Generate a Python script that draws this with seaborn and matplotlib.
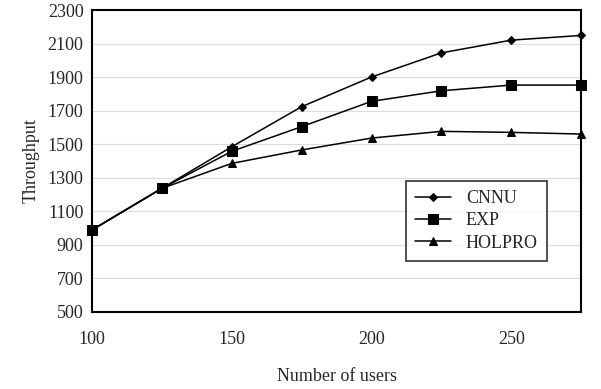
import matplotlib
matplotlib.use("Agg")
import matplotlib.pyplot as plt
import numpy as np
import pandas as pd
import seaborn as sns

users = [100, 125, 150, 175, 200, 225, 250, 275]
cnnu = [989, 1237, 1485, 1724, 1901, 2045, 2121, 2149]
exp = [989, 1237, 1458, 1605, 1756, 1819, 1853, 1853]
holpro = [989, 1237, 1386, 1466, 1537, 1577, 1571, 1561]
names = ["CNNU", "EXP", "HOLPRO"]

df = pd.concat([
    pd.DataFrame({"users": users, "throughput": vals, "method": n})
    for n, vals in zip(names, [cnnu, exp, holpro])
])

sns.set_style("white")
plt.rcParams["font.family"] = ["Liberation Serif", "DejaVu Serif"]

fig = plt.figure(figsize=(6.01, 3.89), dpi=100)
ax = fig.add_axes([0.153, 0.198, 0.814, 0.776])

for y in range(700, 2300, 200):
    ax.axhline(y, color="#dcdcdc", lw=0.8, zorder=0)

sns.lineplot(data=df, x="users", y="throughput", hue="method", style="method",
             palette=["black"] * 3, markers={"CNNU": "D", "EXP": "s", "HOLPRO": "^"},
             dashes=False, markersize=5, linewidth=1.1, ax=ax,
             markeredgecolor="black", clip_on=False)

msize = {"D": 4, "s": 7, "^": 6}

ax.set_xlim(100, 275)
ax.set_ylim(500, 2300)
ax.set_xticks([100, 150, 200, 250])
ax.set_yticks(range(500, 2301, 200))
ax.tick_params(axis="x", direction="in", length=4, width=0.6, labelsize=13, pad=14, color="#bbbbbb")
ax.tick_params(axis="y", length=0, labelsize=13, pad=6)
for s in ax.spines.values():
    s.set_linewidth(1.5)
    s.set_color("black")
ax.set_xlabel("Number of users", fontsize=13, labelpad=14)
ax.set_ylabel("Throughput", fontsize=13, labelpad=6)

leg = ax.legend(loc="lower left", bbox_to_anchor=(0.624, 0.14), fontsize=13,
                frameon=True, fancybox=False, edgecolor="black", handlelength=2.0,
                borderpad=0.5, labelspacing=0.3)
leg.get_frame().set_linewidth(1.2)

for line in list(ax.lines) + list(leg.legend_handles):
    m = line.get_marker()
    if m in msize:
        line.set_markersize(msize[m])

fig.savefig("out.png", dpi=100)
